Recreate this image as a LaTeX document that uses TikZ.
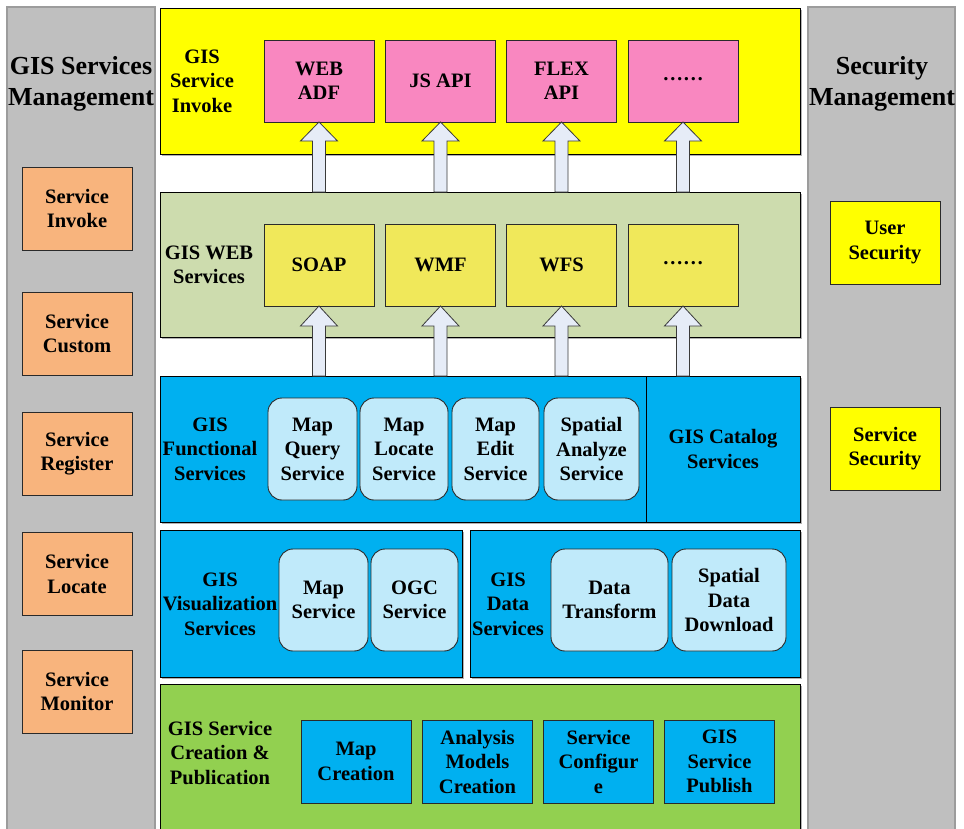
\documentclass[tikz,border=0pt]{standalone}
\usepackage{fontspec}
\setmainfont{Liberation Serif}
\usetikzlibrary{calc,shadows}
\definecolor{panelgray}{HTML}{BFBFBF}
\definecolor{panelborder}{HTML}{9C9C9C}
\definecolor{orangebox}{HTML}{F8B47D}
\definecolor{ybright}{HTML}{FFFF00}
\definecolor{pinkbox}{HTML}{F987C0}
\definecolor{sage}{HTML}{CDDCAE}
\definecolor{ysoft}{HTML}{F0E85A}
\definecolor{bluemain}{HTML}{00B0F0}
\definecolor{bluelight}{HTML}{C0EAFA}
\definecolor{greenband}{HTML}{92D050}
\definecolor{arrowfill}{HTML}{E6ECF7}
\definecolor{arrowborder}{HTML}{3A3A3A}
\definecolor{boxborder}{HTML}{2A2A2A}
\newcommand\txtfont{\fontsize{20.5}{24.5}\selectfont\bfseries}
\newcommand\ttlfont{\fontsize{26}{31}\selectfont\bfseries}
\begin{document}
\begin{tikzpicture}[x=1pt,y=-1pt,
  panel/.style={draw=panelborder,line width=1.5pt,fill=panelgray,inner sep=0pt,outer sep=0pt,anchor=north west},
  band/.style={draw=black,line width=1pt,inner sep=0pt,outer sep=0pt,anchor=north west,
    drop shadow={shadow xshift=2pt,shadow yshift=-2pt,fill=black!30,opacity=1}},
  box/.style={draw=boxborder,line width=0.9pt,minimum width=110pt,minimum height=83pt,inner sep=0pt,outer sep=0pt,align=center,font=\txtfont},
  rbox/.style={box,rounded corners=14pt,fill=bluelight,minimum height=102pt},
  lbl/.style={align=center,font=\txtfont,inner sep=0pt},
  ttl/.style={align=center,font=\ttlfont,inner sep=0pt},
  arr/.style={draw=arrowborder,fill=arrowfill,line width=0.8pt,line join=miter}]
\useasboundingbox (0,0) rectangle (964,828);
\fill[white] (0,0) rectangle (964,828);

% side panels
\node[panel,minimum width=148pt,minimum height=823pt] (lp) at (7,7) {};
\node[panel,minimum width=147pt,minimum height=823pt] (rp) at (808,7) {};
\node[ttl] (lpt) at (81,84) {GIS Services\\Management};
\node[ttl] (rpt) at (882,84) {Security\\Management};

% left panel boxes
\node[box,fill=orangebox] (l1) at (77,208.5) {Service\\Invoke};
\node[box,fill=orangebox] (l2) at (77,333.5) {Service\\Custom};
\node[box,fill=orangebox] (l3) at (77,453.5) {Service\\Register};
\node[box,fill=orangebox] (l4) at (77,574) {Service\\Locate};
\node[box,fill=orangebox] (l5) at (77,691.5) {Service\\Monitor};

% right panel boxes
\node[box,fill=ybright] (r1) at (885,242.5) {User\\Security};
\node[box,fill=ybright] (r2) at (885,448.5) {Service\\Security};

% bands
\node[band,fill=ybright,minimum width=640pt,minimum height=146pt] (b1) at (160,8) {};
\node[band,fill=sage,minimum width=640pt,minimum height=145pt] (b2) at (160,192) {};
\node[band,fill=bluemain,minimum width=486pt,minimum height=146pt] (b3) at (160,376) {};
\node[band,fill=bluemain,minimum width=154pt,minimum height=146pt] (cat) at (646,376) {};
\node[band,fill=bluemain,minimum width=302pt,minimum height=147pt] (b4a) at (160,530) {};
\node[band,fill=bluemain,minimum width=330pt,minimum height=147pt] (b4b) at (470,530) {};
\node[band,fill=greenband,minimum width=640pt,minimum height=150pt] (b5) at (160,684) {};

% band labels
\node[lbl] (t1) at (202,81) {GIS\\Service\\Invoke};
\node[lbl] (t2) at (209,265) {GIS WEB\\Services};
\node[lbl] (t3) at (210,449) {GIS\\Functional\\Services};
\node[lbl] (tcat) at (723,449) {GIS Catalog\\Services};
\node[lbl] (t4a) at (220,604) {GIS\\Visualization\\Services};
\node[lbl] (t4b) at (508,604) {GIS\\Data\\Services};
\node[lbl] (t5) at (220,753) {GIS Service\\Creation \&\\Publication};

% row 1 boxes
\node[box,fill=pinkbox,minimum height=82pt] (p1) at (319,81) {WEB\\ADF};
\node[box,fill=pinkbox,minimum height=82pt] (p2) at (440.5,81) {JS API};
\node[box,fill=pinkbox,minimum height=82pt] (p3) at (561.5,81) {FLEX\\API};
\node[box,fill=pinkbox,minimum height=82pt] (p4) at (683,81) {\raisebox{4pt}{\textbf{……}}};

% row 2 boxes
\node[box,fill=ysoft,minimum height=82pt] (w1) at (319,265) {SOAP};
\node[box,fill=ysoft,minimum height=82pt] (w2) at (440.5,265) {WMF};
\node[box,fill=ysoft,minimum height=82pt] (w3) at (561.5,265) {WFS};
\node[box,fill=ysoft,minimum height=82pt] (w4) at (683,265) {\raisebox{4pt}{\textbf{……}}};

% row 3 rounded boxes
\node[rbox,minimum width=89pt] (f1) at (312.5,449) {Map\\Query\\Service};
\node[rbox,minimum width=88pt] (f2) at (404,449) {Map\\Locate\\Service};
\node[rbox,minimum width=87pt] (f3) at (495.5,449) {Map\\Edit\\Service};
\node[rbox,minimum width=95pt] (f4) at (591.5,449) {Spatial\\Analyze\\Service};

% row 4 rounded boxes
\node[rbox,minimum width=89pt] (v1) at (323.5,600) {Map\\Service};
\node[rbox,minimum width=87pt] (v2) at (414.5,600) {OGC\\Service};
\node[rbox,minimum width=117pt] (d1) at (609.5,600) {Data\\Transform};
\node[rbox,minimum width=114pt] (d2) at (729,600) {Spatial\\Data\\Download};

% row 5 boxes
\node[box,fill=bluemain] (c1) at (356,761.5) {Map\\Creation};
\node[box,fill=bluemain] (c2) at (477.5,761.5) {Analysis\\Models\\Creation};
\node[box,fill=bluemain] (c3) at (598.5,761.5) {Service\\Configur\\e};
\node[box,fill=bluemain] (c4) at (719.5,761.5) {GIS\\Service\\Publish};

% block arrows
\foreach \b in {p1,p2,p3,p4}{
  \draw[arr] let \p1=(\b.south), \p2=(\b.south |- b2.north) in
    (\p1) -- (\x1+18.5pt,\y1-19pt) -- (\x1+6.5pt,\y1-19pt) -- (\x1+6.5pt,\y2)
    -- (\x1-6.5pt,\y2) -- (\x1-6.5pt,\y1-19pt) -- (\x1-18.5pt,\y1-19pt) -- cycle;
}
\foreach \b in {w1,w2,w3,w4}{
  \draw[arr] let \p1=(\b.south), \p2=(\b.south |- b3.north) in
    (\p1) -- (\x1+18.5pt,\y1-20pt) -- (\x1+6.5pt,\y1-20pt) -- (\x1+6.5pt,\y2)
    -- (\x1-6.5pt,\y2) -- (\x1-6.5pt,\y1-20pt) -- (\x1-18.5pt,\y1-20pt) -- cycle;
}
\end{tikzpicture}
\end{document}
